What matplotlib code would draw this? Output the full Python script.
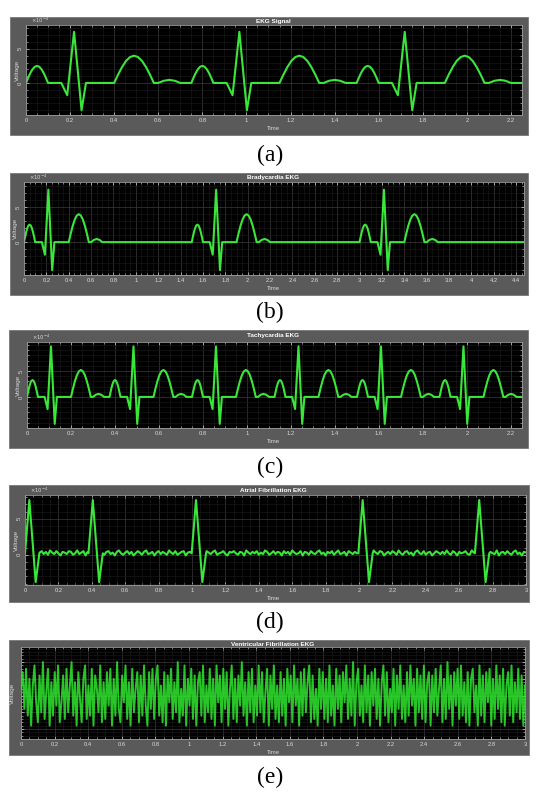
import numpy as np
import matplotlib.pyplot as plt
from matplotlib.patches import Rectangle
from matplotlib.ticker import MultipleLocator, FixedLocator, FormatStrFormatter

W, H = 543, 798

# ── one normal beat: time from P onset (s), voltage (x1e-4)
BEAT_T = [0, .01, .02, .03, .04, .05, .06, .07, .08, .09, .10,          # P
          .16, .187, .218, .252, .272,                                   # QRS
          .40, .418, .436, .454, .472, .49, .508, .526, .544, .562, .58,  # T
          .60, .625, .65, .675, .70]                                     # U
BEAT_V = [0, .77, 1.47, 2.02, 2.38, 2.5, 2.38, 2.02, 1.47, .77, 0,
          0, -1.8, 7.5, -4.0, 0,
          0, 1.24, 2.35, 3.24, 3.80, 4.0, 3.80, 3.24, 2.35, 1.24, 0,
          0, .32, .45, .32, 0]

NORMAL_ONSETS = [0, 0.75, 1.5]
BRADY_ONSETS = [0, 1.5, 3.0]
TACHY_ONSETS = [0, 0.375, 0.75, 1.125, 1.5, 1.875]

# ── atrial fibrillation: R times, QRS shape, fibrillatory baseline (x0.1e-4)
AF_R = [0.026, 0.406, 1.024, 2.022, 2.72]
QRS_T = [-0.026, 0, 0.038, 0.06]
QRS_V = [0.2, 7.6, -3.8, 0.2]
AF_BASE = 0.2
AF_NOISE = [
    1, 3, -2, 2, 4, 0, -3, 1, 3, -1, 2, -2, 4, 1, -1, 3, 0, -3, 2, 1,
    -1, 3, 2, -2, 0, 4, -1, 1, 3, -3, 2, 0, -2, 3, 1, -1, 4, 0, -2, 2,
    3, -1, 1, -3, 2, 4, 0, -2, 1, 3, -1, 2, -3, 0, 3, 1, -2, 2, 4, -1,
    0, 2, -3, 1, 3, -1, 2, 0, -2, 4, 1, -1, 3, -2, 0, 2, 3, -3, 1, 2,
    -2, 1, 4, -1, 2, 0, -3, 3, 1, -1, 2, 4, -2, 0, 1, 3, -1, -3, 2, 1,
    3, 0, -2, 2, 1, -3, 4, 1, -1, 2, 0, 3, -2, 1, -1, 4, 2, -2, 0, 3,
    -1, 2, 1, -3, 3, 0, 2, -2, 4, 1, -1, 0, 3, -3, 2, 1, -2, 3, 0, -1,
    2, 4, -1, 1, -3, 2, 0, 3, -2, 1, 4, -1, 0, 2, -3, 3, 1, -1, 2, 0,
    -3, 1, 3, -1, 2, 0, -2, 4, 1, -1, 3, 2, -3, 0, 2, -1, 3, 1, -2, 4,
    0, -2, 2, 3, -1, 1, -3, 2, 4, 0, -1, 3, -2, 1, 2, -3, 0, 3, 1, -1,
    2, -1, 4, 0, -2, 3, 1, -3, 2, 0, 1, 3, -1, -2, 4, 1, -1, 2, -3, 0,
    3, 1, -2, 2, 0, -1, 4, -3, 1, 2, -1, 3, 0, -2, 2, 4, -1, 1, -3, 2, 1,
]

# ── ventricular fibrillation samples (x0.1, arbitrary units)
VF = [
    2, 7, -4, 8, -6, 5, -9, 3, 9, -2, -8, 6, -5, 10, -7, 1, 8, -9, 4, -6,
    7, -3, 9, -8, -2, 6, -7, 8, -5, 3, 10, -6, 4, -9, 7, -1, -8, 5, 9, -7,
    3, -6, 8, -9, 6, 2, -5, 9, -8, 4, -7, 7, -3, 8, -9, 5, -6, 10, -4, -8,
    6, -2, 9, -7, 4, -9, 8, -5, 2, 7, -8, 6, -6, 9, -3, -9, 7, -4, 8, -7,
    5, 9, -6, 3, -8, 7, -9, 6, -2, 8, -7, 4, -5, 10, -8, 2, -6, 9, -9, 5,
    -3, 8, -7, 6, -9, 4, 7, -6, 9, -8, 3, -5, 8, -7, 5, -9, 9, -2, 6, -8,
    8, -4, 7, -9, 2, 9, -7, 5, -8, 6, -3, 10, -6, 4, -9, 7, -5, 8, -8, 3,
    -6, 9, -5, 7, -8, 1, 8, -9, 6, -4, 9, -7, 3, -8, 7, -6, 5, -9, 8, -2,
    6, -8, 9, -3, 5, -9, 7, -6, 8, -5, 4, 9, -8, 6, -7, 2, -9, 8, -4, 7,
    -7, 5, -8, 9, -6, 3, -9, 8, -4, 6, -8, 7, -2, 9, -7, 5, -6, 10, -9, 4,
    8, -6, 3, -8, 9, -5, 6, -9, 7, -3, 8, -7, 5, -9, 4, 9, -6, 7, -8, 2,
    -5, 8, -9, 6, -4, 9, -7, 3, -8, 7, -6, 9, -3, 5, -9, 8, -5, 6, -7, 9,
    -8, 4, 7, -9, 6, -5, 8, -6, 2, 9, -8, 5, -7, 10, -4, 6, -9, 7, -3, 8,
    -7, 9, -6, 4, -8, 7, -9, 5, 8, -5, 3, -9, 9, -6, 6, -8, 7, -2, 8, -9,
    5, -7, 9, -4, 6, -8, 8, -9, 3, 7, -6, 9, -8, 4, -5, 8, -7, 6, -9, 3,
]

TITLES = ['EKG Signal', 'Bradycardia EKG', 'Tachycardia EKG',
          'Atrial Fibrillation EKG', 'Ventricular Fibrillation EKG']
CAPTIONS = ['(a)', '(b)', '(c)', '(d)', '(e)']
Y_TICKS = [0, 5]

LINE = '#3be63b'
FRAME = '#5a5a5a'
TICK = '#d8d8d8'

plt.rcParams.update({
    'font.family': 'sans-serif',
    'font.sans-serif': ['Liberation Sans', 'DejaVu Sans'],
})


def beats(onsets, t_end, t_scale=1.0, amp=1.0):
    t, v = [], []
    for t0 in onsets:
        t.extend(t0 + np.array(BEAT_T) * t_scale)
        v.extend(np.array(BEAT_V) * amp)
    t.append(t_end)
    v.append(0)
    return np.array(t), np.array(v)


def afib():
    nt = np.arange(len(AF_NOISE)) * 0.0125
    nv = AF_BASE + np.array(AF_NOISE) / 10.0
    keep = np.ones(len(nt), bool)
    for r in AF_R:
        keep &= ~((nt >= r + QRS_T[0]) & (nt <= r + QRS_T[-1]))
    t = list(nt[keep])
    v = list(nv[keep])
    for r in AF_R:
        t.extend(r + np.array(QRS_T))
        v.extend(QRS_V)
    order = np.argsort(t)
    return np.array(t)[order], np.array(v)[order]


fig = plt.figure(figsize=(W / 100, H / 100), dpi=100)
fig.patch.set_facecolor('white')

# pixel boxes: frame (x0, x1, y0, y1), axes (x0, x1, y0, y1), title y, caption y
panels = [
    dict(frame=(10, 528, 17, 135), ax=(26, 522, 25, 115), ty=21, cy=155,
         xlim=(0, 2.25), ylim=(-4.7, 8.5)),
    dict(frame=(10, 528, 173, 295), ax=(24, 524, 182, 275), ty=178, cy=312,
         xlim=(0, 4.47), ylim=(-4.7, 8.6)),
    dict(frame=(9, 528, 330, 448), ax=(27, 522, 342, 428), ty=336, cy=467,
         xlim=(0, 2.25), ylim=(-6.0, 10.6)),
    dict(frame=(9, 529, 485, 602), ax=(25, 526, 495, 585), ty=490, cy=622,
         xlim=(0, 3.0), ylim=(-4.2, 8.3)),
    dict(frame=(9, 529, 640, 755), ax=(21, 525, 647, 739), ty=644, cy=777,
         xlim=(0, 3.0), ylim=(-1.3, 1.45)),
]

traces = [
    beats(NORMAL_ONSETS, 2.25),
    beats(BRADY_ONSETS, 4.47),
    beats(TACHY_ONSETS, 2.25, t_scale=0.5, amp=1.3),
    afib(),
    (np.linspace(0, 3.0, len(VF)), np.array(VF) / 10.0),
]

for i, p in enumerate(panels):
    fx0, fx1, fy0, fy1 = p['frame']
    fig.patches.append(Rectangle((fx0 / W, 1 - fy1 / H), (fx1 - fx0) / W,
                                 (fy1 - fy0) / H, transform=fig.transFigure,
                                 facecolor=FRAME, edgecolor='#777777', lw=0.6,
                                 zorder=-10))
    x0, x1, y0, y1 = p['ax']
    ax = fig.add_axes([x0 / W, 1 - y1 / H, (x1 - x0) / W, (y1 - y0) / H])
    ax.set_zorder(1)
    ax.set_facecolor('black')
    t, v = traces[i]
    if i == 4:
        ax.plot(t, v, color='#2ee62e', lw=1.4, alpha=0.85)
    else:
        ax.plot(t, v, color=LINE, lw=1.5, solid_joinstyle='round',
                solid_capstyle='round')
    ax.set_xlim(*p['xlim'])
    ax.set_ylim(*p['ylim'])

    ax.xaxis.set_major_locator(MultipleLocator(0.2))
    ax.xaxis.set_minor_locator(MultipleLocator(0.05))
    ax.xaxis.set_major_formatter(FormatStrFormatter('%g'))
    if i < 4:
        ax.yaxis.set_major_locator(FixedLocator(Y_TICKS))
        ax.yaxis.set_minor_locator(MultipleLocator(1))
        ax.yaxis.set_major_formatter(FormatStrFormatter('%g'))
        ax.text(0.01, 1.0, r'$\times10^{-4}$', transform=ax.transAxes,
                fontsize=3.8, color=TICK, ha='left', va='bottom')
    else:
        ax.yaxis.set_major_locator(MultipleLocator(0.5))
        ax.yaxis.set_minor_locator(MultipleLocator(0.1))
        ax.tick_params(axis='y', labelleft=False)
    ax.grid(True, which='major', color='#3c3c3c', lw=0.5)
    ax.grid(True, which='minor', color='#1c1c1c', lw=0.4)
    ax.set_axisbelow(True)
    ax.tick_params(which='both', direction='in', top=True, right=True,
                   colors=TICK, labelsize=4.2, pad=2.5)
    ax.tick_params(which='major', length=2.5, width=0.5)
    ax.tick_params(which='minor', length=1.3, width=0.4)
    for lab in ax.get_yticklabels():
        lab.set_rotation(90)
        lab.set_va('center')
    for s in ax.spines.values():
        s.set_color('#9a9a9a')
        s.set_linewidth(0.6)

    fig.text(273 / W, 1 - p['ty'] / H, TITLES[i], ha='center', va='center',
             fontsize=4.6, fontweight='bold', color='white')
    fig.text(273 / W, 1 - (y1 + 13) / H, 'Time', ha='center', va='center',
             fontsize=4.3, color=TICK)
    fig.text((x0 - 9) / W, 1 - (y0 + y1) / 2 / H, 'Voltage', ha='center',
             va='center', rotation=90, fontsize=4.6, color=TICK)
    fig.text(270 / W, 1 - p['cy'] / H, CAPTIONS[i], ha='center', va='center',
             fontsize=17, family='Liberation Serif', color='black')

fig.savefig('out.png', dpi=100, facecolor='white')
